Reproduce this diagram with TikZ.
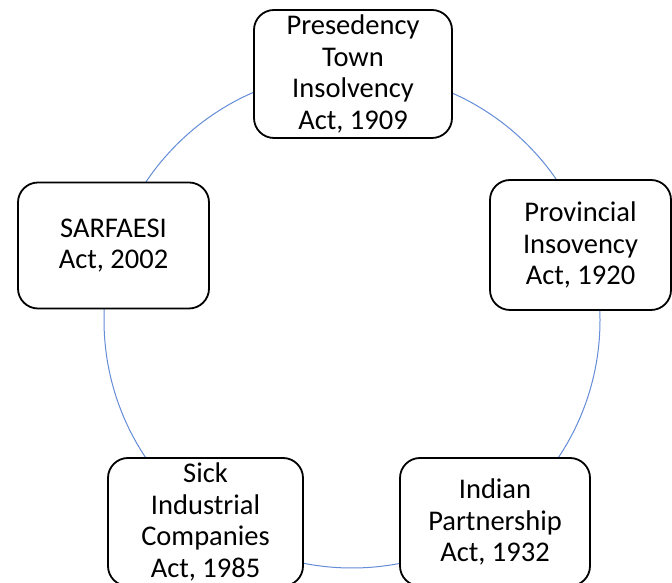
\documentclass[tikz,border=0pt]{standalone}
\usepackage{fontspec}
\setmainfont{Carlito}
\begin{document}
\begin{tikzpicture}[x=1pt,y=1pt,
  actbox/.style={draw=black, line width=1.8pt, rounded corners=20pt, fill=white,
    align=center, inner sep=0pt, font=\fontsize{28.5}{31.5}\selectfont},
  ring/.style={draw=ringblue, line width=1pt}]
\definecolor{ringblue}{RGB}{100,140,215}
\useasboundingbox (0,0) rectangle (672,583);
% the ring linking the five acts
\draw[ring] (352,263) circle (248);
% the acts
\node[actbox, minimum width=198pt, minimum height=128pt] (pti) at (353,509)
  {Presedency\\Town\\Insolvency\\Act, 1909};
\node[actbox, minimum width=181pt, minimum height=130pt] (pia) at (580.5,338)
  {Provincial\\Insovency\\Act, 1920};
\node[actbox, minimum width=191pt, minimum height=126pt] (sar) at (113.5,337.5)
  {SARFAESI\\Act, 2002};
\node[actbox, minimum width=195pt, minimum height=128pt] (sic) at (205.5,61)
  {Sick\\Industrial\\Companies\\Act, 1985};
\node[actbox, minimum width=190pt, minimum height=128pt] (ipa) at (495,61)
  {Indian\\Partnership\\Act, 1932};
\end{tikzpicture}
\end{document}
